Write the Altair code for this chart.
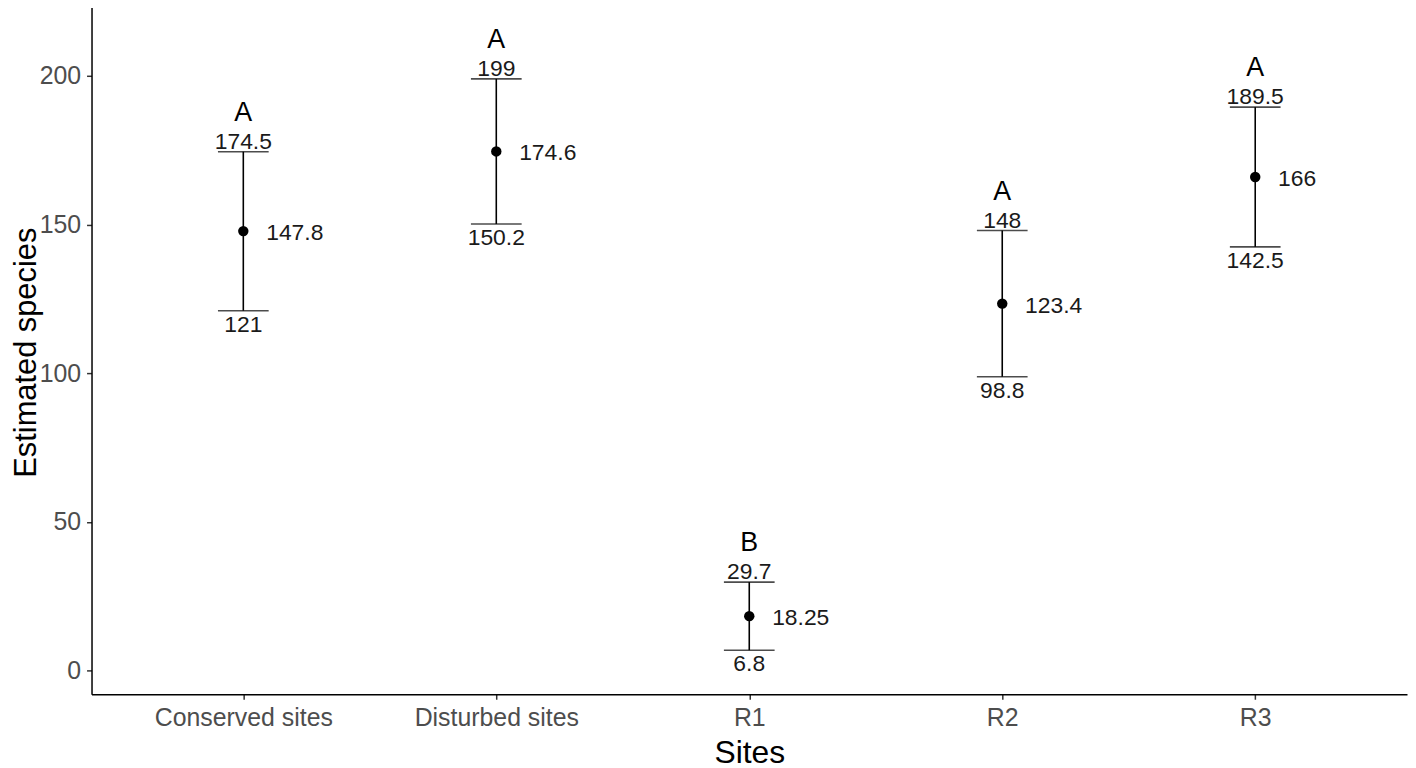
import altair as alt
import pandas as pd

sites = ["Conserved sites", "Disturbed sites", "R1", "R2", "R3"]
mean = [147.8, 174.6, 18.25, 123.4, 166]
lower = [121, 150.2, 6.8, 98.8, 142.5]
upper = [174.5, 199, 29.7, 148, 189.5]
letters = ["A", "A", "B", "A", "A"]

def fmt(v):
    return f"{v:g}"

df = pd.DataFrame({
    "site": sites,
    "mean": mean,
    "lower": lower,
    "upper": upper,
    "letter": letters,
    "mean_lab": [fmt(v) for v in mean],
    "lower_lab": [fmt(v) for v in lower],
    "upper_lab": [fmt(v) for v in upper],
})

FONT = "Liberation Sans"

xenc = alt.X(
    "site:N",
    sort=sites,
    scale=alt.Scale(type="point", padding=0.6),
    axis=alt.Axis(
        title="Sites", labelAngle=0, labelFontSize=25, labelColor="#4d4d4d",
        titleFontSize=32, titleColor="#000000", titleFontWeight="normal",
        tickSize=5, tickColor="#333333", tickWidth=1.5,
        domainColor="#000000", domainWidth=1.5, labelPadding=6,
        titleBaseline="alphabetic", titleY=69,
        labelFont=FONT, titleFont=FONT,
    ),
)
yscale = alt.Scale(domain=[-8.03, 224.8], nice=False, zero=False)
yaxis = alt.Axis(
    title="Estimated species", values=[0, 50, 100, 150, 200], grid=False,
    labelFontSize=25, labelColor="#4d4d4d", titleFontSize=31, titleColor="#000000",
    titleFontWeight="normal", tickSize=5, tickColor="#333333", tickWidth=1.5,
    domainColor="#000000", domainWidth=1.5, labelPadding=6,
    titleBaseline="alphabetic", titleX=-56, titleY=352,
    labelFont=FONT, titleFont=FONT,
)

base = alt.Chart(df)

rule = base.mark_rule(color="black", strokeWidth=1.6).encode(
    x=xenc, y=alt.Y("lower:Q", scale=yscale, axis=yaxis), y2="upper:Q"
)
cap_lo = base.mark_tick(color="black", size=51, thickness=1.6).encode(
    x=xenc, y=alt.Y("lower:Q", scale=yscale)
)
cap_hi = base.mark_tick(color="black", size=51, thickness=1.6).encode(
    x=xenc, y=alt.Y("upper:Q", scale=yscale)
)
pts = base.mark_circle(color="black", size=110, opacity=1).encode(
    x=xenc, y=alt.Y("mean:Q", scale=yscale)
)
t_mean = base.mark_text(align="left", baseline="middle", dx=23, dy=2, fontSize=23,
                        font=FONT, color="#1a1a1a").encode(
    x=xenc, y=alt.Y("mean:Q", scale=yscale), text="mean_lab:N"
)
t_hi = base.mark_text(align="center", baseline="alphabetic", dy=-3, fontSize=23,
                      font=FONT, color="#1a1a1a").encode(
    x=xenc, y=alt.Y("upper:Q", scale=yscale), text="upper_lab:N"
)
t_lo = base.mark_text(align="center", baseline="top", dy=3, fontSize=23,
                      font=FONT, color="#1a1a1a").encode(
    x=xenc, y=alt.Y("lower:Q", scale=yscale), text="lower_lab:N"
)
t_let = base.mark_text(align="center", baseline="alphabetic", dy=-31, fontSize=27,
                       font=FONT, color="#000000").encode(
    x=xenc, y=alt.Y("upper:Q", scale=yscale), text="letter:N"
)

chart = alt.layer(rule, cap_lo, cap_hi, pts, t_mean, t_hi, t_lo, t_let).properties(
    width=1323, height=696,
    autosize=alt.AutoSizeParams(type="none"),
    padding={"left": 84, "top": -8, "right": 1, "bottom": 78},
    background="white",
).configure_view(stroke=None)

chart.save("out.html", embed_options={"renderer": "svg", "actions": False})
